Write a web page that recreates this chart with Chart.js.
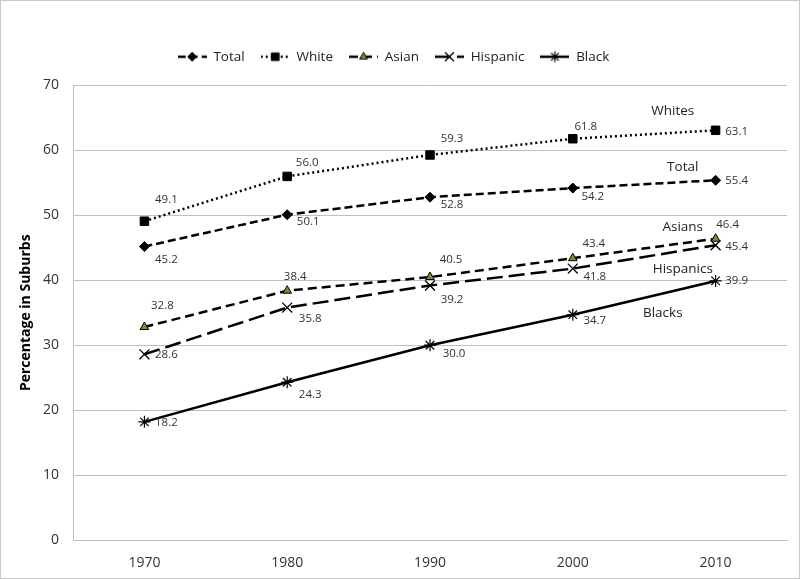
<!DOCTYPE html>
<html>
<head>
<meta charset="utf-8">
<script src="https://cdn.jsdelivr.net/npm/chart.js@4.4.0/dist/chart.umd.min.js"></script>
<style>
  html, body { margin: 0; padding: 0; background: #fff; }
  #wrap { width: 800px; height: 579px; position: relative; }
</style>
</head>
<body>
<div id="wrap"><canvas id="chart"></canvas></div>
<script>
// ---------- Data ----------
const years = ['1970', '1980', '1990', '2000', '2010'];
const total = [45.2, 50.1, 52.8, 54.2, 55.4];
const white = [49.1, 56.0, 59.3, 61.8, 63.1];
const asian = [32.8, 38.4, 40.5, 43.4, 46.4];
const hispanic = [28.6, 35.8, 39.2, 41.8, 45.4];
const black = [18.2, 24.3, 30.0, 34.7, 39.9];
const yTicks = [0, 10, 20, 30, 40, 50, 60, 70];

// group names written next to the lines: [text, category position, value]
const seriesNotes = [
  ['Whites', 3.70, 66.0],
  ['Total', 3.77, 57.4],
  ['Asians', 3.77, 48.2],
  ['Hispanics', 3.77, 41.7],
  ['Blacks', 3.63, 34.9]
];

// where each value label sits relative to its point (px)
const labelOffsets = [
  [[22, 13], [21, 7], [22, 8], [20, 9], [21, 0]],
  [[22, -21], [20, -14], [22, -16], [13, -12], [21, 1]],
  [[18, -21], [8, -14], [21, -17], [21, -14], [12, -14]],
  [[22, 0], [23, 11], [22, 14], [22, 8], [21, 1]],
  [[22, 1], [23, 12], [24, 9], [22, 6], [21, 0]]
];

const FONT = '"Open Sans", "Noto Sans", sans-serif';

// ---------- Legend symbols (line + marker) ----------
function legendSymbol(ds) {
  const c = document.createElement('canvas');
  c.width = 29; c.height = 14;
  const g = c.getContext('2d');
  g.strokeStyle = '#000';
  g.lineWidth = 2.5;
  g.setLineDash(ds.borderDash || []);
  g.beginPath(); g.moveTo(0, 7); g.lineTo(29, 7); g.stroke();
  g.setLineDash([]);
  g.fillStyle = ds.pointBackgroundColor;
  g.strokeStyle = '#000';
  g.lineWidth = ds.pointBorderWidth;
  Chart.helpers.drawPoint(g, {
    pointStyle: ds.pointStyle, radius: ds.pointRadius * 0.9, rotation: 0, borderWidth: ds.pointBorderWidth
  }, 14.5, 7);
  return c;
}

// ---------- Plugins ----------
const frame = {
  id: 'frame',
  afterDraw(chart) {
    const ctx = chart.ctx;
    ctx.save();
    ctx.strokeStyle = '#c8c8c8';
    ctx.lineWidth = 1;
    ctx.strokeRect(0.5, 0.5, chart.width - 1, chart.height - 1);
    ctx.restore();
  }
};

const pointLabels = {
  id: 'pointLabels',
  afterDatasetsDraw(chart) {
    const ctx = chart.ctx;
    ctx.save();
    ctx.font = '11.5px ' + FONT;
    ctx.fillStyle = '#333';
    ctx.textAlign = 'center';
    ctx.textBaseline = 'middle';
    chart.data.datasets.forEach((ds, i) => {
      chart.getDatasetMeta(i).data.forEach((pt, j) => {
        const [dx, dy] = labelOffsets[i][j];
        ctx.fillText(ds.data[j].toFixed(1), pt.x + dx, pt.y + dy);
      });
    });
    ctx.restore();
  }
};

const notes = {
  id: 'notes',
  afterDatasetsDraw(chart) {
    const ctx = chart.ctx;
    const { x, y } = chart.scales;
    ctx.save();
    ctx.font = '13.5px ' + FONT;
    ctx.fillStyle = '#222';
    ctx.textAlign = 'center';
    ctx.textBaseline = 'middle';
    seriesNotes.forEach(([text, cx, v]) => {
      ctx.fillText(text, x.getPixelForValue(cx), y.getPixelForValue(v));
    });
    ctx.restore();
  }
};

// ---------- Chart ----------
const datasets = [
  { label: 'Total', data: total, borderDash: [8, 4], pointStyle: 'rectRot', pointRadius: 5,
    pointBackgroundColor: '#000', pointBorderWidth: 1 },
  { label: 'White', data: white, borderDash: [2, 3], pointStyle: 'rect', pointRadius: 6,
    pointBackgroundColor: '#000', pointBorderWidth: 1 },
  { label: 'Asian', data: asian, borderDash: [9, 5], pointStyle: 'triangle', pointRadius: 5,
    pointBackgroundColor: '#7d8c2c', pointBorderWidth: 1 },
  { label: 'Hispanic', data: hispanic, borderDash: [16, 6], pointStyle: 'crossRot', pointRadius: 7,
    pointBackgroundColor: '#000', pointBorderWidth: 1.3 },
  { label: 'Black', data: black, borderDash: [], pointStyle: 'star', pointRadius: 6,
    pointBackgroundColor: '#000', pointBorderWidth: 1.2 }
].map(ds => ({
  ...ds,
  borderColor: '#000',
  borderWidth: 2.5,
  pointBorderColor: '#000',
  pointHoverRadius: ds.pointRadius,
  tension: 0,
  fill: false
}));

const symbols = datasets.map(legendSymbol);

new Chart(document.getElementById('chart'), {
  type: 'line',
  data: { labels: years, datasets },
  options: {
    responsive: true,
    maintainAspectRatio: false,
    animation: false,
    layout: { padding: { left: 0, right: 13, top: 34, bottom: 0 } },
    plugins: {
      legend: {
        position: 'top',
        weight: 3000,
        labels: {
          usePointStyle: true,
          pointStyleWidth: 29,
          padding: 16,
          color: '#222',
          font: { family: FONT, size: 13.5 },
          generateLabels: (chart) => chart.data.datasets.map((ds, i) => ({
            text: ds.label,
            pointStyle: symbols[i],
            datasetIndex: i,
            hidden: false,
            lineWidth: 0,
            strokeStyle: 'transparent',
            fillStyle: 'transparent',
            fontColor: '#222'
          }))
        }
      },
      // empty title used as a gap between legend and plot
      title: { display: true, text: '', weight: 500, padding: 0, font: { size: 12, lineHeight: 1 } },
      tooltip: { enabled: false }
    },
    scales: {
      x: {
        offset: true,
        afterFit(scale) { scale.height = 39; },
        grid: { display: false },
        border: { display: true, color: '#bfbfbf', width: 1 },
        ticks: { color: '#333', padding: 7, font: { family: FONT, size: 14 } }
      },
      y: {
        min: 0,
        max: 70,
        afterFit(scale) { scale.width = 73; },
        afterBuildTicks(scale) { scale.ticks = yTicks.map(v => ({ value: v })); },
        grid: { color: '#bfbfbf', lineWidth: 1, drawTicks: false },
        border: { display: true, color: '#bfbfbf', width: 1 },
        ticks: { color: '#333', padding: 14, font: { family: FONT, size: 14 } },
        title: {
          display: true,
          text: 'Percentage in Suburbs',
          color: '#000',
          padding: { top: 18, bottom: 0 },
          font: { family: FONT, size: 14, weight: 'bold' }
        }
      }
    }
  },
  plugins: [frame, pointLabels, notes]
});
</script>
</body>
</html>
